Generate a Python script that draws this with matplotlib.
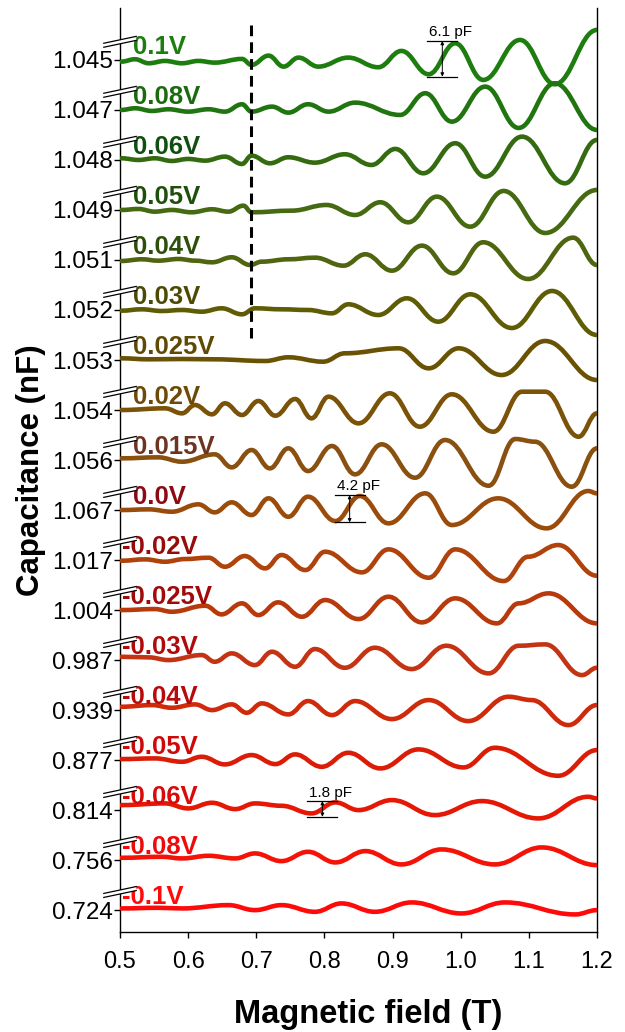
import matplotlib
matplotlib.use("Agg")
import matplotlib.pyplot as plt
import matplotlib.transforms as mtransforms
from matplotlib.path import Path
from matplotlib.patches import PathPatch

plt.rcParams['font.family'] = ['Liberation Sans', 'DejaVu Sans']

# gate voltages (top to bottom) and the capacitance at each trace's baseline
voltages = ["0.1V", "0.08V", "0.06V", "0.05V", "0.04V", "0.03V", "0.025V", "0.02V",
            "0.015V", "0.0V", "-0.02V", "-0.025V", "-0.03V", "-0.04V", "-0.05V",
            "-0.06V", "-0.08V", "-0.1V"]
tick_labels = ["1.045", "1.047", "1.048", "1.049", "1.051", "1.052", "1.053", "1.054",
               "1.056", "1.067", "1.017", "1.004", "0.987", "0.939", "0.877", "0.814",
               "0.756", "0.724"]

line_colors = ["#1d7d0e", "#217510", "#356b10", "#456a12", "#4f6510", "#5e5c05",
               "#6a5205", "#7a5208", "#8a5010", "#9a4c0c", "#b0420c", "#b83a0c",
               "#c43414", "#cf2a0c", "#db1c06", "#e51806", "#f51206", "#ff0a0a"]
label_colors = ["#1d7d0e", "#1a6b0e", "#0f4f0f", "#1f4f0c", "#2d4f0c", "#4d4a05",
                "#5f4a05", "#6e4a08", "#6e3422", "#8c0a14", "#990a0a", "#a00a0a",
                "#b00a0a", "#b80a0a", "#cc0a0a", "#d80a0a", "#ee0a0a", "#ff0a0a"]

# turning points of each trace: field (T) and capacitance change (pF)
b_p100 = [0.502, 0.522, 0.542, 0.566, 0.591, 0.615, 0.639, 0.679, 0.693, 0.718, 0.740,
          0.762, 0.791, 0.835, 0.879, 0.913, 0.953, 0.992, 1.033, 1.087, 1.138, 1.200]
c_p100 = [-0.27, 0.11, -0.53, -0.16, -0.53, -0.16, -0.43, 0.16, -0.8, 0.69, -1.07,
          0.37, -1.07, 0.37, -1.17, 1.44, -2.29, 2.67, -3.2, 3.2, -3.89, 4.8]

b_p080 = [0.502, 0.522, 0.547, 0.571, 0.600, 0.630, 0.654, 0.679, 0.693, 0.723, 0.747,
          0.776, 0.806, 0.845, 0.911, 0.948, 0.987, 1.036, 1.085, 1.138, 1.200]
c_p080 = [0.0, 0.27, -0.16, 0.11, -0.27, 0.11, -0.27, 0.91, -0.27, 0.53, -0.43,
          0.91, -0.27, 1.17, -0.8, 2.67, -1.87, 3.73, -2.88, 4.27, -3.2]

b_p060 = [0.502, 0.527, 0.551, 0.576, 0.600, 0.625, 0.654, 0.679, 0.693, 0.720, 0.747,
          0.786, 0.830, 0.869, 0.904, 0.945, 0.992, 1.036, 1.090, 1.153, 1.200]
c_p060 = [0.27, 0.0, 0.27, -0.16, 0.16, -0.11, 0.53, -0.64, 0.69, -0.53, 0.43,
          -0.43, 0.91, -0.8, 1.76, -2.13, 2.67, -2.67, 3.73, -3.73, 3.2]

b_p050 = [0.502, 0.527, 0.551, 0.576, 0.605, 0.635, 0.659, 0.681, 0.693, 0.752, 0.803,
          0.845, 0.882, 0.923, 0.965, 1.014, 1.063, 1.124, 1.200]
c_p050 = [0.0, 0.16, -0.27, 0.0, -0.37, 0.11, -0.27, 0.69, -0.37, -0.11, 0.8,
          -0.8, 1.23, -1.97, 2.13, -2.67, 3.04, -3.68, 3.2]

b_p040 = [0.502, 0.532, 0.556, 0.586, 0.610, 0.635, 0.664, 0.691, 0.708, 0.747, 0.786,
          0.828, 0.860, 0.899, 0.943, 0.989, 1.033, 1.099, 1.165, 1.200]
c_p040 = [-0.16, 0.11, -0.11, 0.16, -0.11, -0.37, 0.43, -0.8, -0.27, 0.11, 0.37,
          -0.91, 0.91, -1.71, 2.29, -2.13, 2.83, -3.04, 3.57, -0.8]

b_p030 = [0.502, 0.532, 0.561, 0.591, 0.620, 0.649, 0.679, 0.698, 0.737, 0.776, 0.811,
          0.835, 0.879, 0.921, 0.967, 1.014, 1.075, 1.134, 1.200]
c_p030 = [-0.11, 0.11, -0.16, 0.0, -0.27, 0.27, -0.69, 0.27, 0.11, 0.0, -0.53,
          0.91, -0.8, 1.87, -1.87, 2.51, -2.88, 3.04, -4.0]

b_p025 = [0.502, 0.542, 0.591, 0.639, 0.713, 0.747, 0.798, 0.830, 0.909, 0.953, 0.997,
          1.060, 1.124, 1.200]
c_p025 = [0.27, 0.11, 0.16, 0.11, -0.16, 0.43, -0.27, 1.07, 1.87, -1.33, 1.87,
          -2.4, 3.04, -3.2]

b_p020 = [0.502, 0.566, 0.591, 0.610, 0.635, 0.654, 0.679, 0.703, 0.728, 0.757, 0.781,
          0.806, 0.850, 0.896, 0.940, 0.987, 1.048, 1.090, 1.124, 1.173, 1.200]
c_p020 = [0.0, 0.27, -0.53, 0.8, -0.69, 1.07, -0.8, 1.44, -0.91, 1.76, -1.33,
          2.13, -2.13, 2.67, -2.67, 2.51, -3.47, 2.93, 2.93, -4.27, -0.53]

b_p015 = [0.502, 0.556, 0.591, 0.639, 0.664, 0.693, 0.720, 0.747, 0.776, 0.811, 0.845,
          0.884, 0.933, 0.977, 1.041, 1.080, 1.109, 1.163, 1.200]
c_p015 = [0.27, 0.43, -0.27, 0.91, -1.17, 1.6, -1.33, 1.87, -1.76, 2.24, -2.29,
          2.51, -2.83, 3.2, -4.11, 3.36, 2.93, -4.27, 1.87]

b_p000 = [0.502, 0.542, 0.576, 0.615, 0.639, 0.664, 0.693, 0.718, 0.747, 0.776, 0.816,
          0.852, 0.894, 0.948, 0.987, 1.055, 1.126, 1.187, 1.200]
c_p000 = [0.0, 0.11, -0.27, 0.91, -0.37, 1.23, -0.8, 1.87, -1.07, 2.13, -1.76,
          2.24, -2.13, 2.67, -2.4, 1.87, -2.93, 3.04, 2.67]

b_m020 = [0.502, 0.537, 0.566, 0.595, 0.630, 0.654, 0.683, 0.713, 0.737, 0.772, 0.801,
          0.855, 0.894, 0.953, 0.992, 1.063, 1.099, 1.143, 1.200]
c_m020 = [-0.11, 0.11, -0.27, 0.16, 0.37, -1.07, 0.64, -1.33, 0.8, -1.6, 1.33,
          -1.97, 1.71, -2.83, 1.71, -3.36, 0.53, 2.4, -2.51]

b_m025 = [0.502, 0.551, 0.576, 0.625, 0.649, 0.679, 0.703, 0.732, 0.767, 0.801, 0.850,
          0.894, 0.943, 0.992, 1.053, 1.085, 1.129, 1.200]
c_m025 = [0.0, 0.16, -0.27, 0.69, -0.69, 1.07, -0.8, 1.23, -1.07, 1.6, -1.44,
          2.13, -1.97, 1.87, -2.13, 1.07, 2.67, -2.13]

b_m030 = [0.502, 0.542, 0.571, 0.620, 0.639, 0.664, 0.698, 0.723, 0.757, 0.786, 0.830,
          0.874, 0.928, 0.979, 1.041, 1.085, 1.124, 1.178, 1.200]
c_m030 = [0.53, 0.43, 0.0, 0.8, -0.27, 1.07, -0.8, 1.33, -1.07, 1.76, -1.23,
          1.97, -1.44, 2.29, -2.13, 2.29, 2.51, -2.4, -1.23]

b_m040 = [0.502, 0.547, 0.576, 0.610, 0.635, 0.664, 0.686, 0.708, 0.747, 0.776, 0.811,
          0.845, 0.899, 0.953, 1.011, 1.070, 1.104, 1.158, 1.200]
c_m040 = [0.53, 0.8, 0.37, 0.91, 0.0, 0.91, -0.43, 1.07, -0.69, 1.44, -0.8,
          1.44, -1.44, 1.6, -1.76, 2.13, 1.6, -2.4, 0.8]

b_m050 = [0.502, 0.551, 0.591, 0.620, 0.654, 0.693, 0.728, 0.757, 0.796, 0.835, 0.882,
          0.938, 1.004, 1.050, 1.143, 1.200]
c_m050 = [0.16, 0.27, -0.27, 0.53, -0.69, 0.8, -0.64, 0.91, -1.07, 1.17, -1.33,
          1.71, -1.17, 1.97, -2.51, 1.6]

b_m060 = [0.502, 0.566, 0.600, 0.635, 0.669, 0.698, 0.737, 0.781, 0.816, 0.850, 0.899,
          0.962, 1.031, 1.114, 1.187, 1.200]
c_m060 = [0.8, 1.07, 0.27, 1.17, 0.16, 1.07, 0.69, -0.53, 1.23, 0.0, 1.6,
          -0.8, 1.44, -1.33, 2.13, 1.87]

b_m080 = [0.502, 0.561, 0.591, 0.630, 0.669, 0.698, 0.737, 0.776, 0.816, 0.860, 0.913,
          0.972, 1.050, 1.119, 1.200]
c_m080 = [0.37, 0.53, 0.27, 0.69, 0.27, 1.07, -0.16, 1.33, -0.37, 1.44, -0.69,
          1.71, -0.69, 2.03, -0.8]

b_m100 = [0.502, 0.556, 0.591, 0.659, 0.698, 0.737, 0.786, 0.825, 0.874, 0.928, 1.001,
          1.065, 1.168, 1.200]
c_m100 = [0.27, 0.37, 0.27, 0.8, 0.0, 0.8, -0.27, 1.07, -0.27, 1.23, -0.53,
          1.23, -0.69, 0.0]

fields = [b_p100, b_p080, b_p060, b_p050, b_p040, b_p030, b_p025, b_p020, b_p015,
          b_p000, b_m020, b_m025, b_m030, b_m040, b_m050, b_m060, b_m080, b_m100]
caps = [c_p100, c_p080, c_p060, c_p050, c_p040, c_p030, c_p025, c_p020, c_p015,
        c_p000, c_m020, c_m025, c_m030, c_m040, c_m050, c_m060, c_m080, c_m100]

# scale bars: field, bottom, top, label, relative to the trace they sit on
bar_trace = [0, 9, 15]
bar_field = [0.973, 0.837, 0.797]
bar_low = [-2.67, -1.97, -1.07]
bar_high = [3.04, 2.4, 1.44]
bar_text = ["6.1 pF", "4.2 pF", "1.8 pF"]

marker_field = 0.692  # dashed vertical line
spacing = 8.0
n = len(voltages)


def smooth_path(xs, ys):
    verts = [(xs[0], ys[0])]
    codes = [Path.MOVETO]
    for k in range(len(xs) - 1):
        d = (xs[k + 1] - xs[k]) * 0.4
        verts += [(xs[k] + d, ys[k]), (xs[k + 1] - d, ys[k + 1]), (xs[k + 1], ys[k + 1])]
        codes += [Path.CURVE4] * 3
    return Path(verts, codes)


fig = plt.figure(figsize=(6.25, 10.32), dpi=100)
ax = fig.add_axes([0.192, 0.0969, 0.7632, 0.8953])

offsets = [spacing * (n - 1 - i) for i in range(n)]
for i in range(n):
    ys = [offsets[i] + c for c in caps[i]]
    patch = PathPatch(smooth_path(fields[i], ys), fill=False, edgecolor=line_colors[i],
                      lw=3.3, capstyle='round', joinstyle='round', zorder=3)
    ax.add_patch(patch)
    xt = 0.503 if voltages[i].startswith("-") else 0.519
    ax.text(xt, offsets[i] + 1.0, voltages[i], color=label_colors[i], fontsize=18.5,
            fontweight='bold', ha='left', va='baseline', zorder=4)

# dashed marker
ax.plot([marker_field, marker_field], [offsets[0] + 5.6, offsets[5] - 4.5], color='black',
        lw=2.2, ls=(0, (3.5, 2)), zorder=5)

# scale bars
for t, bx, lo, hi, lab in zip(bar_trace, bar_field, bar_low, bar_high, bar_text):
    y0 = offsets[t] + lo
    y1 = offsets[t] + hi
    half = 0.022
    ax.plot([bx - half, bx + half], [y0, y0], color='black', lw=0.9, zorder=5)
    ax.plot([bx - half, bx + half], [y1, y1], color='black', lw=0.9, zorder=5)
    ax.annotate('', xy=(bx, y0), xytext=(bx, y1),
                arrowprops=dict(arrowstyle='<|-|>', lw=0.7, color='black',
                                mutation_scale=5, shrinkA=0, shrinkB=0), zorder=5)
    ax.text(bx - 0.019, y1 + 0.25, lab, fontsize=11, ha='left', va='bottom', zorder=5)

ax.set_xlim(0.5, 1.2)
ax.set_ylim(-3.5, 144.3)
ax.set_xticks([0.5, 0.6, 0.7, 0.8, 0.9, 1.0, 1.1, 1.2])
ax.set_xticklabels(["0.5", "0.6", "0.7", "0.8", "0.9", "1.0", "1.1", "1.2"])
ax.set_yticks(offsets)
ax.set_yticklabels(tick_labels)
ax.tick_params(axis='both', direction='out', length=4, width=1.0)
ax.tick_params(axis='y', pad=1, labelsize=17.5)
ax.tick_params(axis='x', pad=10, labelsize=17)
for s in ax.spines.values():
    s.set_linewidth(1.0)
ax.spines['top'].set_visible(False)

ax.set_xlabel("Magnetic field (T)", fontsize=23.5, fontweight='bold')
ax.set_ylabel("Capacitance (nF)", fontsize=22.5, fontweight='bold')
ax.xaxis.set_label_coords(0.52, -0.073)
ax.yaxis.set_label_coords(-0.155, 0.5)

# axis break marks above every tick
trans = mtransforms.blended_transform_factory(ax.transAxes, ax.transData)
dx, dy, gap = 0.034, 0.55, 0.32
for off in offsets:
    yc = off + 2.9
    ax.fill([-dx, dx, dx, -dx], [yc - dy - gap, yc + dy - gap, yc + dy + gap, yc - dy + gap],
            color='white', transform=trans, clip_on=False, zorder=6, lw=0)
    for sgn in (-1, 1):
        ax.plot([-dx, dx], [yc - dy + sgn * gap, yc + dy + sgn * gap], color='black',
                lw=0.9, transform=trans, clip_on=False, zorder=7)

fig.savefig("out.png", dpi=100)
